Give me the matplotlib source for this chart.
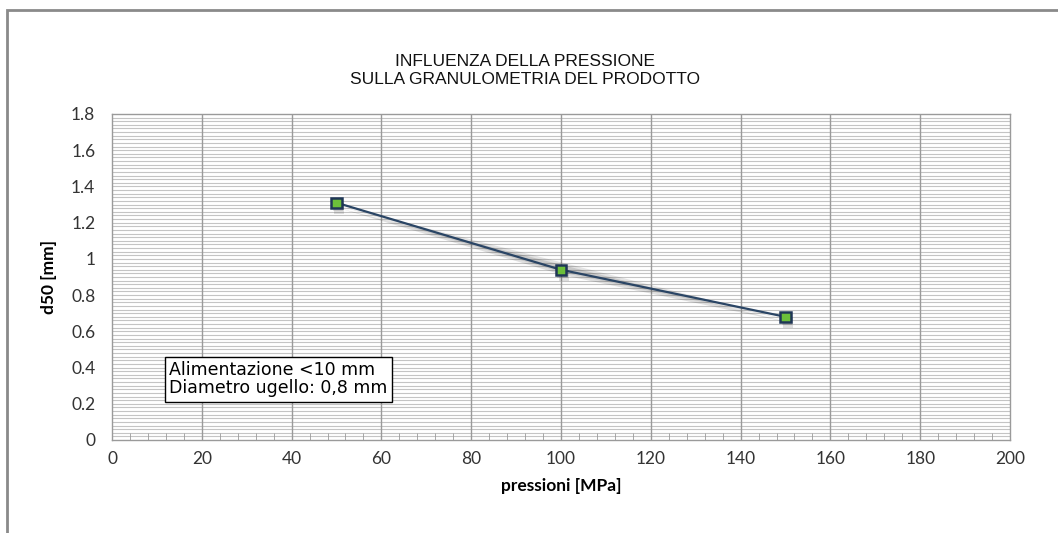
import matplotlib as mpl
mpl.use("Agg")
import matplotlib.pyplot as plt
import matplotlib.patheffects as pe
from matplotlib.patches import Rectangle
import numpy as np

# data
pressioni = [50, 100, 150]
d50 = [1.31, 0.94, 0.68]
title_lines = ["INFLUENZA DELLA PRESSIONE", "SULLA GRANULOMETRIA DEL PRODOTTO"]
note_lines = ["Alimentazione <10 mm", "Diametro ugello: 0,8 mm"]
xticks = [0, 20, 40, 60, 80, 100, 120, 140, 160, 180, 200]
yticks = [0, 0.2, 0.4, 0.6, 0.8, 1.0, 1.2, 1.4, 1.6, 1.8]
ytick_labels = ["0", "0.2", "0.4", "0.6", "0.8", "1", "1.2", "1.4", "1.6", "1.8"]

fig = plt.figure(figsize=(10.58, 5.33), dpi=100)
fig.patch.set_facecolor("white")

# outer chart frame (only top and left edges are visible in the crop)
fig.patches.append(Rectangle((7 / 1058, -0.5), 2.0, 1 - 10 / 533 + 0.5,
                             transform=fig.transFigure, fill=False,
                             edgecolor="#8a8a8a", lw=2))

ax = fig.add_axes([112 / 1058, 1 - 440 / 533, 898 / 1058, 326 / 533])
ax.set_xlim(0, 200)
ax.set_ylim(0, 1.8)

# dense horizontal grid + vertical major grid
for yv in np.arange(0.02, 1.8, 0.02):
    ax.axhline(yv, color="#c4c4c4", lw=0.8, zorder=0)
for xv in xticks[1:-1]:
    ax.axvline(xv, color="#9a9a9a", lw=1.0, zorder=0.5)

ax.set_xticks(xticks)
ax.set_yticks(yticks)
ax.set_yticklabels(ytick_labels)
ax.set_xticks(np.arange(0, 201, 4), minor=True)
ax.tick_params(axis="x", which="minor", direction="in", length=5, color="#9a9a9a")
ax.tick_params(axis="x", which="major", direction="in", length=0, pad=8)
ax.tick_params(axis="y", which="both", length=0, pad=12)
for lab in ax.get_xticklabels() + ax.get_yticklabels():
    lab.set_fontfamily("Lato")
    lab.set_fontsize(12.5)
    lab.set_color("#333333")

for sp in ax.spines.values():
    sp.set_color("#9a9a9a")
    sp.set_linewidth(1.0)

shadow = [pe.SimplePatchShadow(offset=(2, -4), shadow_rgbFace="#000000", alpha=0.12),
          pe.SimplePatchShadow(offset=(1, -2), shadow_rgbFace="#000000", alpha=0.10),
          pe.Normal()]
ax.plot(pressioni, d50, color="#2a4565", lw=1.6, zorder=3, path_effects=shadow)
ax.plot(pressioni, d50, ls="none", marker="s", markersize=7.5,
        markerfacecolor="#6cbf3a", markeredgecolor="#1f3656", markeredgewidth=1.8,
        zorder=4, path_effects=shadow)

ax.set_xlabel("pressioni [MPa]", fontfamily="Lato", fontweight="bold",
              fontsize=12.5, labelpad=8)
ax.set_ylabel("d50 [mm]", fontfamily="Lato", fontweight="bold",
              fontsize=12.5, labelpad=10)

fig.text(525 / 1058, 1 - 70 / 533, "\n".join(title_lines), ha="center", va="center",
         fontfamily="Liberation Sans", fontsize=12.5, linespacing=1.25, color="#111111")

ax.text(12.8, 0.335, "\n".join(note_lines), ha="left", va="center",
        fontfamily="DejaVu Sans", fontsize=12.5, linespacing=1.0, zorder=5,
        bbox=dict(boxstyle="square,pad=0.25", facecolor="white", edgecolor="black", lw=1.0))

fig.savefig("out.png", dpi=100)
